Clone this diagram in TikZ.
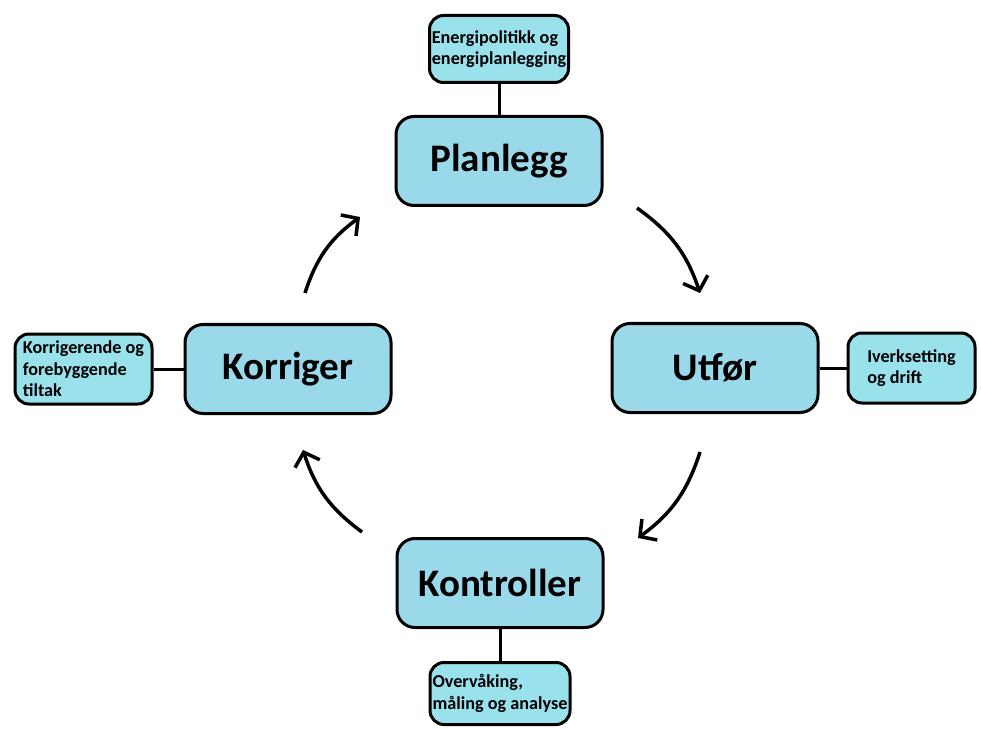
\documentclass[tikz,border=0pt]{standalone}
\usepackage{fontspec}
\setmainfont{Carlito}
\usetikzlibrary{arrows.meta,positioning}
\definecolor{stagefill}{RGB}{153,217,234}
\definecolor{notefill}{RGB}{153,226,236}

\begin{document}
\begin{tikzpicture}[
  x=1pt, y=1pt,
  node distance=30pt,
  stage/.style={draw=black, line width=3pt, rounded corners=18pt, fill=stagefill,
    minimum width=206pt, minimum height=89pt,
    font=\fontsize{39}{44}\selectfont\bfseries},
  note/.style={draw=black, line width=3pt, rounded corners=14pt, fill=notefill,
    align=left, inner sep=2pt, font=\fontsize{18.2}{21.5}\selectfont\bfseries},
  link/.style={draw=black, line width=3pt},
  arr/.style={-{Straight Barb[length=12pt,width=26pt]}, line width=3.5pt, bend left=18}
]
  \useasboundingbox (0,0) rectangle (981,729);

  \node[stage] (plan) at (499,568) {Planlegg};
  \node[stage] (utfor) at (715,361) {Utfør};
  \node[stage] (kontr) at (500,146) {Kontroller};
  \node[stage] (korr) at (288,360) {Korriger};

  \node[note, above=31pt of plan, minimum width=139pt, minimum height=67pt] (politikk) {Energipolitikk og\\energiplanlegging};
  \node[note, right=27pt of utfor, minimum width=127pt, minimum height=70pt] (drift) {Iverksetting\\og drift};
  \node[note, below=32pt of kontr, minimum width=140pt, minimum height=62pt] (analyse) {Overvåking,\\måling og analyse};
  \node[note, left=30pt of korr, minimum width=137pt, minimum height=70pt] (tiltak) {Korrigerende og\\forebyggende\\tiltak};

  \draw[link] (politikk) -- (plan);
  \draw[link] (utfor) -- (drift);
  \draw[link] (kontr) -- (analyse);
  \draw[link] (korr) -- (tiltak);

  \coordinate (korr-out) at (305,436);
  \coordinate (plan-in) at (360,512);
  \coordinate (plan-out) at (637,521);
  \coordinate (utfor-in) at (700,436);
  \coordinate (utfor-out) at (700,277);
  \coordinate (kontr-in) at (638,191);
  \coordinate (kontr-out) at (362,197);
  \coordinate (korr-in) at (303,279);

  \draw[arr] (korr-out) to (plan-in);
  \draw[arr] (plan-out) to (utfor-in);
  \draw[arr] (utfor-out) to (kontr-in);
  \draw[arr] (kontr-out) to (korr-in);
\end{tikzpicture}
\end{document}
